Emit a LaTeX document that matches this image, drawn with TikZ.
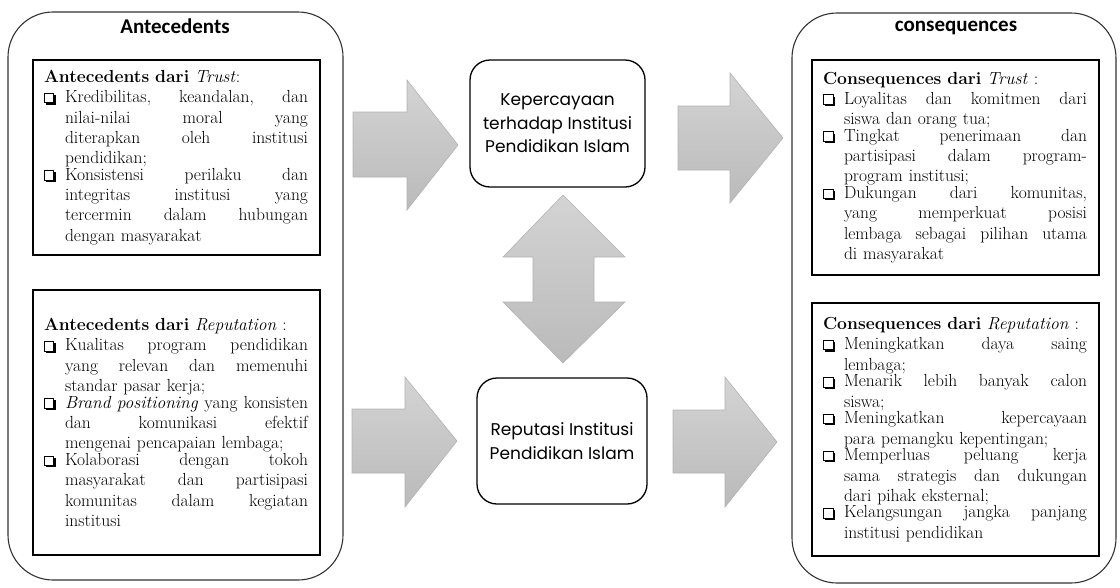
\documentclass[tikz,border=0pt]{standalone}
\usepackage{fontspec}
\newfontfamily\titlefont{Carlito}
\newfontfamily\midfont{Poppins}
\newcommand\qb{\makebox[21pt][l]{\tikz[x=1pt,y=1pt,baseline=0pt]{\fill[black] (1.7,-1.7) rectangle (11.2,7.8);\filldraw[fill=white,draw=black,line width=0.8pt] (0,0) rectangle (9.5,9.5);}}}
\newcommand\jl[1]{\hbox to 243pt{\spaceskip=0.333em plus 1fil minus 0.16em\xspaceskip=\spaceskip\relax #1}}
\newcommand\lastln[1]{\hbox{#1}}
\newcommand\itm[1]{\par\noindent\qb\vtop{\hsize=243pt\relax #1}}
\tikzset{
  obox/.style={draw=black!80, line width=1.1pt, rounded corners=45pt},
  ibox/.style={draw=black, line width=1.1pt, text width=265pt, inner xsep=11pt, inner ysep=0pt, align=left, font=\fontsize{17.5}{20.3}\selectfont},
  mbox/.style={draw=black, line width=1.3pt, rounded corners=20pt, align=center, font=\midfont\fontsize{17}{23.5}\selectfont},
  ttl/.style={font=\titlefont\bfseries\fontsize{21}{24}\selectfont},
  barrow/.style={top color=black!17, bottom color=black!27, draw=black!30, line width=0.6pt}
}
\begin{document}
\begin{tikzpicture}[x=1pt,y=-1pt]
\useasboundingbox (0,0) rectangle (1120,587);
% outer containers
\node[obox, minimum width=335pt, minimum height=568pt] (L) at (175.5,296) {};
\node[obox, minimum width=324pt, minimum height=570pt] (R) at (954,298) {};
\node[ttl] (Lt) at (175,26) {Antecedents};
\node[ttl] (Rt) at (956,28) {consequences};
% left inner boxes
\node[ibox, minimum height=195pt] (lt) at (176.5,157.5) {\textbf{Antecedents dari} \textit{Trust}:%
\itm{\jl{Kredibilitas, keandalan, dan}\jl{nilai-nilai moral yang}\jl{diterapkan oleh institusi}\lastln{pendidikan;}}%
\itm{\jl{Konsistensi perilaku dan}\jl{integritas institusi yang}\jl{tercermin dalam hubungan}\lastln{dengan masyarakat}}};
\node[ibox, minimum height=265pt] (lb) at (176.5,422.5) {\textbf{Antecedents dari} \textit{Reputation} :%
\itm{\jl{Kualitas program pendidikan}\jl{yang relevan dan memenuhi}\lastln{standar pasar kerja;}}%
\itm{\jl{\textit{Brand positioning} yang konsisten}\jl{dan komunikasi efektif}\lastln{mengenai pencapaian lembaga;}}%
\itm{\jl{Kolaborasi dengan tokoh}\jl{masyarakat dan partisipasi}\jl{komunitas dalam kegiatan}\lastln{institusi}}};
% right inner boxes
\node[ibox, minimum height=215pt] (rt) at (955.5,167.5) {\textbf{Consequences dari} \textit{Trust} :%
\itm{\jl{Loyalitas dan komitmen dari}\lastln{siswa dan orang tua;}}%
\itm{\jl{Tingkat penerimaan dan}\jl{partisipasi dalam program-}\lastln{program institusi;}}%
\itm{\jl{Dukungan dari komunitas,}\jl{yang memperkuat posisi}\jl{lembaga sebagai pilihan utama}\lastln{di masyarakat}}};
\node[ibox, minimum height=253pt] (rb) at (955.5,429.5) {\textbf{Consequences dari} \textit{Reputation} :%
\itm{\jl{Meningkatkan daya saing}\lastln{lembaga;}}%
\itm{\jl{Menarik lebih banyak calon}\lastln{siswa;}}%
\itm{\jl{Meningkatkan kepercayaan}\lastln{para pemangku kepentingan;}}%
\itm{\jl{Memperluas peluang kerja}\jl{sama strategis dan dukungan}\lastln{dari pihak eksternal;}}%
\itm{\jl{Kelangsungan jangka panjang}\lastln{institusi pendidikan}}};
% central boxes
\node[mbox, minimum width=175pt, minimum height=127pt] (kt) at (557.5,123.5) {Kepercayaan\\terhadap Institusi\\Pendidikan Islam};
\node[mbox, minimum width=170pt, minimum height=126pt] (rp) at (562,441) {Reputasi Institusi\\Pendidikan Islam};
% block arrows
\path[barrow] (353,112) -- (407,112) -- (407,80) -- (458,145) -- (407,210) -- (407,177) -- (353,177) -- cycle;
\path[barrow] (352,409) -- (405,409) -- (405,377) -- (457,441) -- (405,507) -- (405,473) -- (352,473) -- cycle;
\path[barrow] (678,106) -- (730,106) -- (730,73) -- (783,138) -- (730,203) -- (730,170) -- (678,170) -- cycle;
\path[barrow] (673,410) -- (725,410) -- (725,377) -- (777,442) -- (725,507) -- (725,473) -- (673,473) -- cycle;
\path[barrow] (563,195) -- (625,257) -- (594,257) -- (594,302) -- (625,302) -- (563,363) -- (503,302) -- (533,302) -- (533,257) -- (503,257) -- cycle;
\end{tikzpicture}
\end{document}
